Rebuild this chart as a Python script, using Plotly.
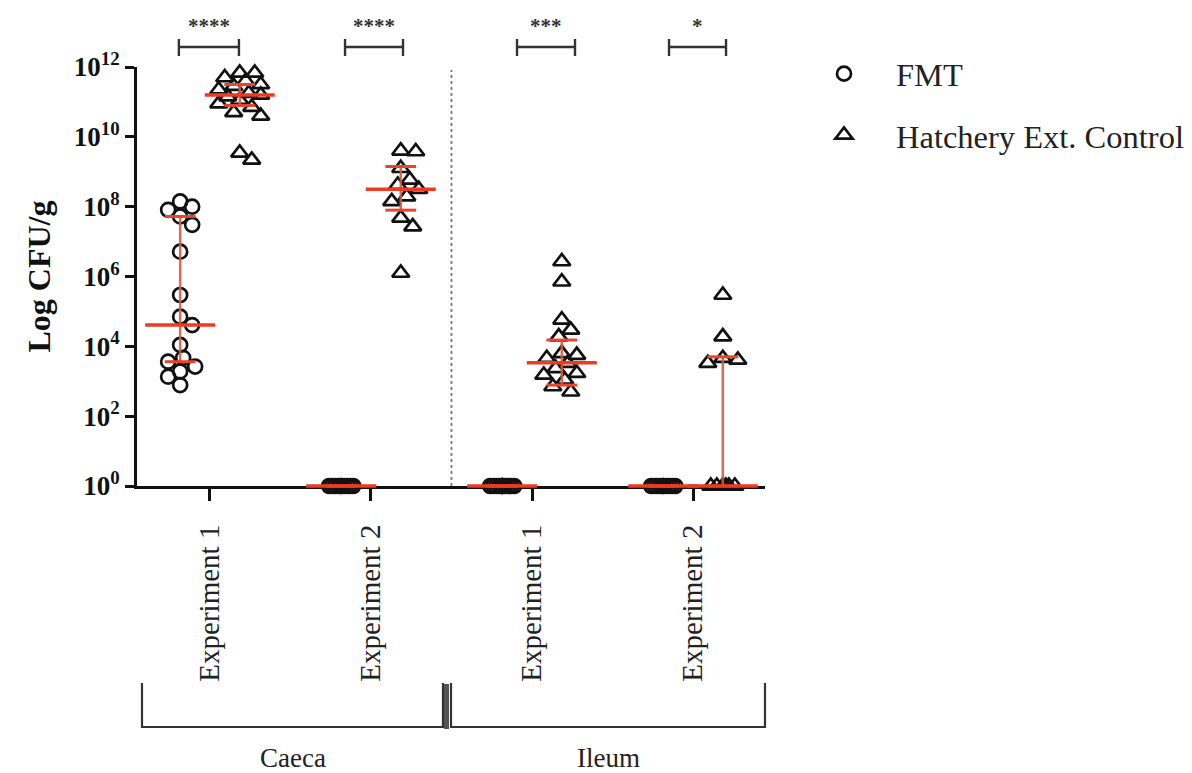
import math
import plotly.graph_objects as go

# ---------------- data (log10 CFU/g) ----------------
categories = ["Experiment 1", "Experiment 2", "Experiment 1", "Experiment 2"]
tissues = ["Caeca", "Ileum"]
series_names = ["FMT", "Hatchery Ext. Control"]
significance = ["****", "****", "***", "*"]

fmt_log10 = [
    [8.15, 8.00, 7.91, 7.72, 7.48, 6.71, 5.47, 4.85, 4.61, 4.04, 3.67, 3.56, 3.42, 3.28, 3.13, 2.89],
    [0, 0, 0, 0, 0, 0, 0, 0, 0, 0],
    [0, 0, 0, 0, 0, 0, 0, 0, 0, 0, 0, 0],
    [0, 0, 0, 0, 0, 0, 0, 0, 0, 0],
]
hatch_log10 = [
    [11.83, 11.83, 11.7, 11.6, 11.5, 11.45, 11.35, 11.25, 11.2, 11.15, 11.05, 10.95, 10.85, 10.7, 10.6, 9.54, 9.34],
    [9.6, 9.58, 9.1, 8.77, 8.62, 8.5, 8.29, 8.15, 7.68, 7.43, 6.1],
    [6.43, 5.85, 4.76, 4.47, 4.28, 3.8, 3.75, 3.66, 3.52, 3.37, 3.23, 3.18, 3.04, 2.85, 2.7],
    [5.47, 4.28, 3.66, 3.61, 3.52, 0, 0, 0, 0, 0, 0],
]
# median with interquartile range (log10)
fmt_median = [4.61, 0, 0, 0]
fmt_q1 = [3.56, 0, 0, 0]
fmt_q3 = [7.72, 0, 0, 0]
hatch_median = [11.2, 8.5, 3.53, 0]
hatch_q1 = [10.9, 7.9, 2.89, 0]
hatch_q3 = [11.5, 9.15, 4.18, 3.7]

# ---------------- geometry helpers ----------------
W, H = 1192, 773
L, R, T, B = 137, 765, 67, 486
XR = [-0.453, 3.447]
PX_PER_UNIT = (R - L) / (XR[1] - XR[0])
PX_PER_DEC = (B - T) / 12.0
OFF = 0.185
RED = "#EE3A22"


def swarm(center, vals, cap_px=21, zero_cap_px=13, d_px=13, step_px=3):
    placed = []
    res = [0.0] * len(vals)
    order = sorted(range(len(vals)), key=lambda i: -vals[i])
    for i in order:
        cap = zero_cap_px if vals[i] == 0 else cap_px
        cands = [0]
        k = 1
        while k * step_px <= cap:
            cands += [k * step_px, -k * step_px]
            k += 1
        ypx = vals[i] * PX_PER_DEC
        best, bestd = 0, -1
        for c in cands:
            dmin = min([math.hypot(c - px, ypx - py) for px, py in placed], default=1e9)
            if dmin >= d_px:
                best = c
                break
            if dmin > bestd:
                bestd, best = dmin, c
        placed.append((best, ypx))
        res[i] = center + best / PX_PER_UNIT
    return res


fig = go.Figure()

# data points
for name, data, off, sym in [
    (series_names[0], fmt_log10, -OFF, "circle-open"),
    (series_names[1], hatch_log10, OFF, "triangle-up-open"),
]:
    xs, ys = [], []
    for gi, vals in enumerate(data):
        xs += swarm(gi + off, vals)
        ys += [10 ** v for v in vals]
    fig.add_trace(go.Scatter(
        x=xs, y=ys, mode="markers", name=name, legendgroup=name,
        marker=dict(symbol=sym, size=14 if sym.startswith("circle") else 15,
                    color="#111111", line=dict(width=2.7, color="#111111")),
        cliponaxis=False,
    ))

# whiskers (interquartile range)
wx, wy = [], []
for off, q1s, q3s in [(-OFF, fmt_q1, fmt_q3), (OFF, hatch_q1, hatch_q3)]:
    for gi in range(4):
        if q3s[gi] > q1s[gi]:
            wx += [gi + off, gi + off, None]
            wy += [10 ** q1s[gi], 10 ** q3s[gi], None]
fig.add_trace(go.Scatter(x=wx, y=wy, mode="lines", showlegend=False,
                         line=dict(color="rgba(214,92,58,0.9)", width=2.5),
                         hoverinfo="skip"))

# quartile caps and medians as horizontal line markers
cx, cy, mx, my = [], [], [], []
for off, meds, q1s, q3s in [(-OFF, fmt_median, fmt_q1, fmt_q3),
                            (OFF, hatch_median, hatch_q1, hatch_q3)]:
    for gi in range(4):
        cx += [gi + off, gi + off]
        cy += [10 ** q1s[gi], 10 ** q3s[gi]]
        mx.append(gi + off)
        my.append(10 ** meds[gi])
fig.add_trace(go.Scatter(x=cx, y=cy, mode="markers", showlegend=False, cliponaxis=False,
                         marker=dict(symbol="line-ew-open", size=22, color="#E8452A",
                                     line=dict(color="#E8452A", width=3)),
                         hoverinfo="skip"))
fig.add_trace(go.Scatter(x=mx, y=my, mode="markers", showlegend=False, cliponaxis=False,
                         marker=dict(symbol="line-ew-open", size=50, color=RED,
                                     line=dict(color=RED, width=3.5)),
                         hoverinfo="skip"))

FONT = "Liberation Serif"


def px_to_paper_y(py):
    return (B - py) / (B - T)


def px_to_paper_x(px):
    return (px - L) / (R - L)


shapes = []
annotations = []
# dashed separator between tissues
shapes.append(dict(type="line", xref="x", yref="paper", x0=1.5, x1=1.5,
                   y0=0, y1=px_to_paper_y(70),
                   line=dict(color="#777777", width=1.8, dash="dot")))

# significance brackets
spans = [(-0.193, 0.180), (0.839, 1.199), (1.907, 2.267), (2.851, 3.205)]
yb = px_to_paper_y(47)
yt0, yt1 = px_to_paper_y(39), px_to_paper_y(56)
for (a, b), s in zip(spans, significance):
    shapes.append(dict(type="line", xref="x", yref="paper", x0=a, x1=b, y0=yb, y1=yb,
                       line=dict(color="#333333", width=2.4)))
    for xx in (a, b):
        shapes.append(dict(type="line", xref="x", yref="paper", x0=xx, x1=xx, y0=yt0, y1=yt1,
                           line=dict(color="#333333", width=2.4)))
    annotations.append(dict(x=(a + b) / 2, y=px_to_paper_y(26), xref="x", yref="paper",
                            xanchor="center", yanchor="middle",
                            text=s, showarrow=False,
                            font=dict(family=FONT, size=21, color="#333333", weight="bold")))

# tissue brackets at the bottom
ytop, ybot = px_to_paper_y(683), px_to_paper_y(727)
for (a, b), lab in zip([(142, 443), (451, 765)], tissues):
    xa, xb = px_to_paper_x(a), px_to_paper_x(b)
    shapes.append(dict(type="path", xref="paper", yref="paper",
                       path=f"M {xa},{ytop} L {xa},{ybot} L {xb},{ybot} L {xb},{ytop}",
                       line=dict(color="#333333", width=2.2)))
    annotations.append(dict(x=(xa + xb) / 2, y=px_to_paper_y(758), xref="paper", yref="paper",
                            xanchor="center", yanchor="middle",
                            text=lab, showarrow=False,
                            font=dict(family=FONT, size=27, color="#222222")))
shapes.append(dict(type="rect", xref="paper", yref="paper",
                   x0=px_to_paper_x(444), x1=px_to_paper_x(449),
                   y0=px_to_paper_y(729), y1=px_to_paper_y(684),
                   fillcolor="#555555", line=dict(width=0)))

fig.update_layout(
    width=W, height=H,
    margin=dict(l=L, r=W - R, t=T, b=H - B, autoexpand=False),
    paper_bgcolor="white", plot_bgcolor="white",
    font=dict(family=FONT, color="#111111"),
    showlegend=True,
    legend=dict(x=px_to_paper_x(792), y=px_to_paper_y(46), xanchor="left", yanchor="top",
                font=dict(family=FONT, size=32.5, color="#222222"),
                tracegroupgap=16, itemwidth=94, bgcolor="rgba(0,0,0,0)"),
    shapes=shapes,
    annotations=annotations,
    xaxis=dict(range=XR, tickvals=[0, 1, 2, 3], ticktext=categories, tickangle=-90,
               tickfont=dict(family=FONT, size=29, color="#222222"),
               ticks="outside", ticklen=12, tickwidth=3, tickcolor="#111111",
               showline=True, linewidth=3, linecolor="#111111",
               showgrid=False, zeroline=False, layer="below traces",
               ticklabelstandoff=12, automargin=False),
    yaxis=dict(type="log", range=[0, 12],
               tickvals=[10 ** k for k in range(0, 13, 2)],
               ticktext=[f"10<sup>{k}</sup>" for k in range(0, 13, 2)],
               tickfont=dict(family=FONT, size=27, color="#111111", weight="bold"),
               ticks="outside", ticklen=9, tickwidth=3, tickcolor="#111111",
               showline=True, linewidth=3, linecolor="#111111",
               showgrid=False, zeroline=False, layer="below traces", automargin=False,
               title=dict(text="Log CFU/g", standoff=14,
                          font=dict(family=FONT, size=32, color="#111111", weight="bold"))),
)

fig.write_html("out.html")
